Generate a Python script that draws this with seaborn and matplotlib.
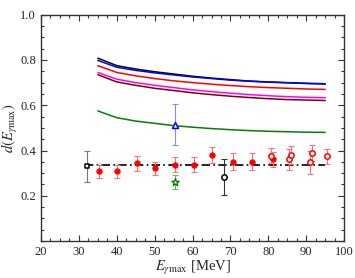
import numpy as np
import pandas as pd
import matplotlib
matplotlib.use("Agg")
import matplotlib.pyplot as plt
import seaborn as sns
from matplotlib.ticker import MultipleLocator

# Model curves
e_curve = [35, 40, 45, 50, 55, 60, 65, 70, 75, 80, 85, 90, 95]
black_curve = [0.808, 0.775, 0.760, 0.748, 0.738, 0.728, 0.720, 0.713, 0.707, 0.703, 0.700, 0.697, 0.695]
blue_curve = [0.798, 0.768, 0.754, 0.743, 0.734, 0.725, 0.718, 0.711, 0.706, 0.702, 0.699, 0.696, 0.694]
red_curve = [0.775, 0.745, 0.730, 0.718, 0.708, 0.700, 0.693, 0.687, 0.682, 0.678, 0.675, 0.672, 0.670]
magenta_curve = [0.745, 0.715, 0.700, 0.688, 0.678, 0.668, 0.660, 0.653, 0.647, 0.642, 0.638, 0.635, 0.633]
brown_curve = [0.735, 0.703, 0.688, 0.675, 0.665, 0.655, 0.647, 0.640, 0.634, 0.629, 0.625, 0.623, 0.621]
green_curve = [0.575, 0.545, 0.530, 0.520, 0.510, 0.503, 0.497, 0.492, 0.488, 0.485, 0.483, 0.481, 0.480]

# Mean level (dash-dot)
mean_x = [31.5, 95]
mean_y = [0.335, 0.335]

# Red filled data
red_x = [35.3, 40.1, 45.3, 50.1, 55.3, 60.4, 65.0, 70.7, 75.6, 81.2]
red_y = [0.308, 0.308, 0.343, 0.321, 0.337, 0.337, 0.380, 0.350, 0.350, 0.362]
red_err = [0.030, 0.030, 0.033, 0.030, 0.033, 0.033, 0.035, 0.037, 0.037, 0.033]

# Red open data
ropen_x = [80.6, 85.4, 86.1, 91.1, 91.5, 95.6]
ropen_y = [0.377, 0.361, 0.380, 0.348, 0.388, 0.374]
ropen_err = [0.033, 0.045, 0.040, 0.050, 0.035, 0.033]

# Other single points
sq_x, sq_y, sq_lo, sq_hi = [32.1], [0.333], [0.26], [0.40]
circ_x, circ_y, circ_lo, circ_hi = [68.2], [0.281], [0.202], [0.361]
star_x, star_y, star_lo, star_hi = [55.3], [0.260], [0.230], [0.290]
tri_x, tri_y, tri_lo, tri_hi = [55.3], [0.512], [0.424], [0.604]

sns.set_style("ticks")
plt.rcParams['font.family'] = ['Liberation Serif', 'DejaVu Serif']
plt.rcParams['mathtext.fontset'] = 'stix'

fig = plt.figure(figsize=(3.55, 2.78), dpi=100)
ax = fig.add_axes([0.1155, 0.133, 0.854, 0.814])

curves = [(black_curve, 'black'), (blue_curve, 'blue'), (red_curve, 'red'),
          (magenta_curve, 'magenta'), (brown_curve, '#800000'), (green_curve, 'green')]
for vals, col in curves:
    df = pd.DataFrame({'E': e_curve, 'd': vals})
    sns.lineplot(data=df, x='E', y='d', color=col, lw=1.1, ax=ax, legend=False)

sns.lineplot(x=mean_x, y=mean_y, color='black', lw=1.2, ax=ax, legend=False)
ax.lines[-1].set_linestyle((0, (5, 2, 1, 2)))

ekw = dict(fmt='none', elinewidth=0.8, capsize=2, capthick=0.8)
ax.errorbar(red_x, red_y, yerr=red_err, ecolor='#ff7070', **ekw)
ax.errorbar(ropen_x, ropen_y, yerr=ropen_err, ecolor='#ff7070', **ekw)
ax.errorbar(sq_x, sq_y, yerr=[[sq_y[0]-sq_lo[0]], [sq_hi[0]-sq_y[0]]], ecolor='#777777', **ekw)
ax.errorbar(circ_x, circ_y, yerr=[[circ_y[0]-circ_lo[0]], [circ_hi[0]-circ_y[0]]], ecolor='#333333', **ekw)
ax.errorbar(star_x, star_y, yerr=[[star_y[0]-star_lo[0]], [star_hi[0]-star_y[0]]], ecolor='#66bb66', **ekw)
ax.errorbar(tri_x, tri_y, yerr=[[tri_y[0]-tri_lo[0]], [tri_hi[0]-tri_y[0]]], ecolor='#8888ff', **ekw)

sns.scatterplot(x=red_x, y=red_y, marker='o', s=16, color='red', edgecolor='red', linewidth=0.5, ax=ax, zorder=5)
sns.scatterplot(x=ropen_x, y=ropen_y, marker='o', s=15, facecolor='white', edgecolor='red', linewidth=1.1, ax=ax, zorder=5)
sns.scatterplot(x=sq_x, y=sq_y, marker='s', s=12, facecolor='white', edgecolor='black', linewidth=1.1, ax=ax, zorder=5)
sns.scatterplot(x=circ_x, y=circ_y, marker='o', s=15, facecolor='white', edgecolor='black', linewidth=1.1, ax=ax, zorder=5)
sns.scatterplot(x=star_x, y=star_y, marker='*', s=32, facecolor='white', edgecolor='green', linewidth=0.9, ax=ax, zorder=5)
sns.scatterplot(x=tri_x, y=tri_y, marker='^', s=18, facecolor='white', edgecolor='blue', linewidth=1.1, ax=ax, zorder=5)

ax.set_xlim(20, 100)
ax.set_ylim(0, 1.0)
ax.xaxis.set_major_locator(MultipleLocator(10))
ax.xaxis.set_minor_locator(MultipleLocator(2.5))
ax.yaxis.set_major_locator(MultipleLocator(0.2))
ax.yaxis.set_minor_locator(MultipleLocator(0.05))
ax.set_yticks([0.2, 0.4, 0.6, 0.8, 1.0])
ax.set_yticklabels(['0.2', '0.4', '0.6', '0.8', '1.0'])
ax.tick_params(which='both', direction='in', top=True, right=True, labelsize=9, width=0.8, color='#333333')
ax.tick_params(which='major', length=4)
ax.tick_params(which='minor', length=2)
for sp in ax.spines.values():
    sp.set_linewidth(1.0)
    sp.set_color('#333333')

ax.set_xlabel(r'$E_{\gamma\mathrm{max}}$ [MeV]', fontsize=10.5, labelpad=1)
ax.set_ylabel(r'$d(E_{\gamma\mathrm{max}})$', fontsize=10.5)
ax.yaxis.set_label_coords(-0.07, 0.5)

fig.savefig('out.png', dpi=100)
